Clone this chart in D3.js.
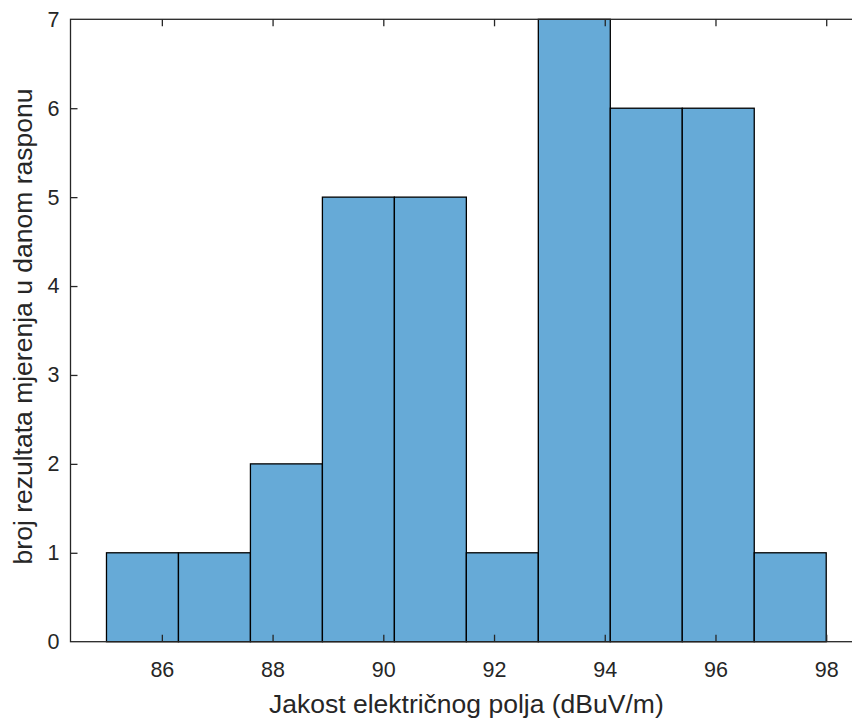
<!DOCTYPE html>
<html>
<head>
<meta charset="utf-8">
<script src="https://cdn.jsdelivr.net/npm/d3@7"></script>
<style>
html,body{margin:0;padding:0;background:#fff;overflow:hidden;}
svg{display:block;}
</style>
</head>
<body>
<script>
// Data
const binEdges = [85, 86.3, 87.6, 88.9, 90.2, 91.5, 92.8, 94.1, 95.4, 96.7, 98];
const counts = [1, 1, 2, 5, 5, 1, 7, 6, 6, 1];
const xTicks = [86, 88, 90, 92, 94, 96, 98];
const yTicks = [0, 1, 2, 3, 4, 5, 6, 7];
const xLabel = "Jakost električnog polja (dBuV/m)";
const yLabel = "broj rezultata mjerenja u danom rasponu";

(function () {
const W = 852, H = 721;
const pLeft = 70.5, pRight = 862.2, pTop = 19.3, pBottom = 641.7;
const axisColor = "#262626";
const font = "'Liberation Sans', Arial, Helvetica, sans-serif";

const svg = d3.select("body").append("svg").attr("width", W).attr("height", H);

const x = d3.scaleLinear().domain([84.35, 98.65]).range([pLeft, pRight]);
const y = d3.scaleLinear().domain([0, 7]).range([pBottom, pTop]);

const bins = counts.map((c, i) => ({x0: binEdges[i], x1: binEdges[i + 1], c}));

svg.append("g").selectAll("rect").data(bins).join("rect")
  .attr("x", d => x(d.x0))
  .attr("y", d => y(d.c))
  .attr("width", d => x(d.x1) - x(d.x0))
  .attr("height", d => y(0) - y(d.c))
  .attr("fill", "#66aad7")
  .attr("stroke", "#000")
  .attr("stroke-width", 1.3);

// Axes
const gx = svg.append("g").attr("transform", `translate(0,${pBottom})`)
  .call(d3.axisBottom(x).tickValues(xTicks).tickFormat(d3.format("d"))
    .tickSizeInner(-7).tickSizeOuter(0).tickPadding(20));
const gt = svg.append("g").attr("transform", `translate(0,${pTop})`)
  .call(d3.axisTop(x).tickValues(xTicks).tickSizeInner(-7).tickSizeOuter(0).tickFormat(""));
const gy = svg.append("g").attr("transform", `translate(${pLeft},0)`)
  .call(d3.axisLeft(y).tickValues(yTicks).tickFormat(d3.format("d"))
    .tickSizeInner(-7).tickSizeOuter(0).tickPadding(11));

[gx, gt, gy].forEach(g => {
  g.select(".domain").remove();
  g.selectAll("line").attr("stroke", axisColor).attr("stroke-width", 1.3);
  g.selectAll("text").attr("fill", axisColor).style("font-family", font).style("font-size", "21.5px");
});
gy.selectAll(".tick").filter(d => d === 0 || d === 7).select("line").remove();

// Box
svg.append("rect")
  .attr("x", pLeft).attr("y", pTop)
  .attr("width", pRight - pLeft).attr("height", pBottom - pTop)
  .attr("fill", "none").attr("stroke", axisColor).attr("stroke-width", 1.3);

// Labels
svg.append("text")
  .attr("x", (pLeft + pRight) / 2).attr("y", 713)
  .attr("text-anchor", "middle")
  .attr("fill", axisColor)
  .style("font-family", font).style("font-size", "26.5px")
  .text(xLabel);

svg.append("text")
  .attr("transform", `translate(32,${(pTop + pBottom) / 2 - 4}) rotate(-90)`)
  .attr("text-anchor", "middle")
  .attr("fill", axisColor)
  .style("font-family", font).style("font-size", "26.5px")
  .text(yLabel);
})();
</script>
</body>
</html>
